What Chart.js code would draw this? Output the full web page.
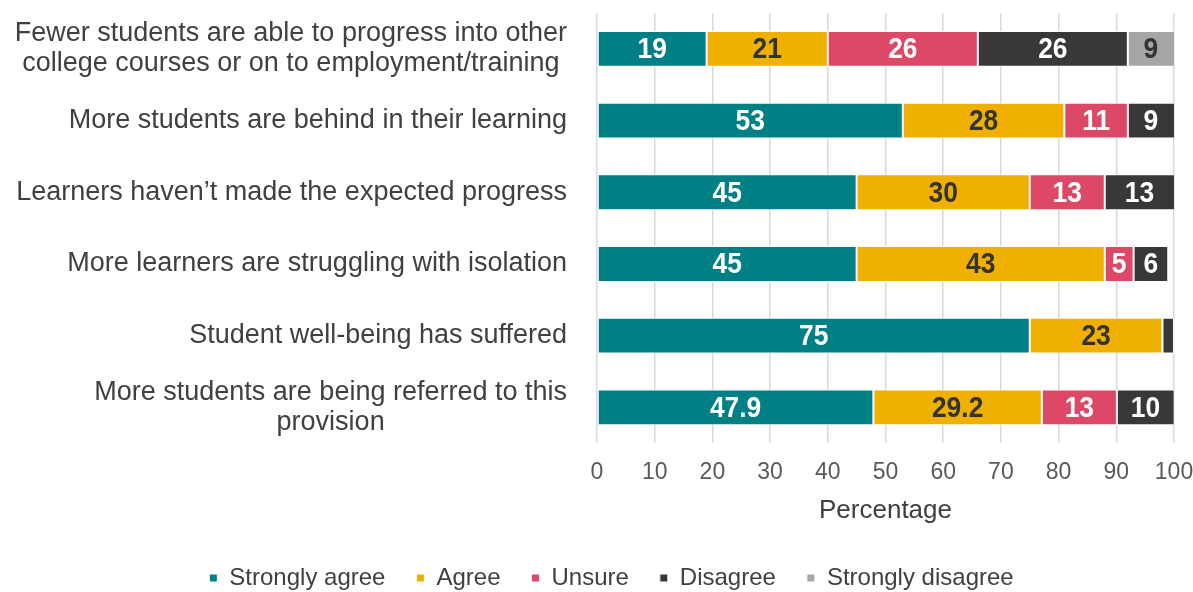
<!DOCTYPE html>
<html>
<head>
<meta charset="utf-8">
<script src="https://cdn.jsdelivr.net/npm/chart.js@4.4.0/dist/chart.umd.min.js"></script>
<style>
    html, body { margin: 0; padding: 0; background: #ffffff; }
    #wrap { width: 1193px; height: 592px; }
</style>
</head>
<body>
<div id="wrap"><canvas id="impactChart"></canvas></div>
<script>
// statements (multi-line ones as arrays)
var categorias = [
    ['Fewer students are able to progress into other', 'college courses or on to employment/training'],
    'More students are behind in their learning',
    'Learners haven\u2019t made the expected progress',
    'More learners are struggling with isolation',
    'Student well-being has suffered',
    ['More students are being referred to this', 'provision']
];

var muyDeAcuerdo = [19, 53, 45, 45, 75, 47.9];
var deAcuerdo = [21, 28, 30, 43, 23, 29.2];
var indeciso = [26, 11, 13, 5, null, 13];
var desacuerdo = [26, 9, 13, 6, 2, 10];
var muyDesacuerdo = [9, null, null, null, null, null];

var ticksX = [0, 10, 20, 30, 40, 50, 60, 70, 80, 90, 100];

var fuente = "'Liberation Sans', Arial, sans-serif";

// value labels drawn in the middle of each segment (bold, squeezed a bit)
var etiquetasValores = {
    id: 'etiquetasValores',
    afterDatasetsDraw: function (chart) {
        var ctx = chart.ctx;
        var area = chart.chartArea;
        chart.data.datasets.forEach(function (ds, d) {
            var meta = chart.getDatasetMeta(d);
            meta.data.forEach(function (bar, i) {
                var v = ds.data[i];
                if (v == null || v < 3) return;
                var p = bar.getProps(['x', 'y', 'base'], true);
                var derecha = Math.min(p.x, area.right);
                ctx.save();
                ctx.translate((p.base + derecha) / 2, p.y + 1);
                ctx.scale(0.88, 1);
                ctx.font = "bold 30px " + fuente;
                ctx.textAlign = 'center';
                ctx.textBaseline = 'middle';
                ctx.fillStyle = ds.colorTexto;
                ctx.fillText(String(v), 0, 0);
                ctx.restore();
            });
        });
    }
};

// category labels: right-aligned block, lines centred inside it
var etiquetasCategorias = {
    id: 'etiquetasCategorias',
    afterDraw: function (chart) {
        var ctx = chart.ctx;
        var y = chart.scales.y;
        var borde = 567;
        var alto = 30;
        ctx.save();
        ctx.font = "27px " + fuente;
        ctx.fillStyle = '#404040';
        ctx.textAlign = 'center';
        ctx.textBaseline = 'middle';
        categorias.forEach(function (c, i) {
            var lineas = Array.isArray(c) ? c : [c];
            var ancho = 0;
            lineas.forEach(function (l) { ancho = Math.max(ancho, ctx.measureText(l).width); });
            var cx = borde - ancho / 2;
            var cy = y.getPixelForValue(i) - (lineas.length - 1) * alto / 2;
            lineas.forEach(function (l, k) {
                ctx.fillText(l, cx, cy + k * alto);
            });
        });
        ctx.restore();
    }
};

function serie(label, data, color, colorTexto) {
    return {
        label: label,
        data: data,
        backgroundColor: color,
        borderColor: '#ffffff',
        borderWidth: 1,
        borderSkipped: false,
        colorTexto: colorTexto,
        categoryPercentage: 1,
        barPercentage: 0.5
    };
}

var grafico = new Chart(document.getElementById('impactChart').getContext('2d'), {
    type: 'bar',
    data: {
        labels: categorias,
        datasets: [
            serie('Strongly agree', muyDeAcuerdo, '#007f85', '#ffffff'),
            serie('Agree', deAcuerdo, '#f0b000', '#333333'),
            serie('Unsure', indeciso, '#dd4866', '#ffffff'),
            serie('Disagree', desacuerdo, '#383838', '#ffffff'),
            serie('Strongly disagree', muyDesacuerdo, '#a6a6a8', '#333333')
        ]
    },
    options: {
        indexAxis: 'y',
        responsive: true,
        maintainAspectRatio: false,
        animation: false,
        layout: { padding: { left: 30, top: 13, right: 0, bottom: -8 } },
        plugins: {
            tooltip: { enabled: false },
            legend: {
                position: 'bottom',
                labels: {
                    boxWidth: 8,
                    boxHeight: 8,
                    padding: 31,
                    color: '#404040',
                    font: { family: fuente, size: 24 }
                }
            }
        },
        scales: {
            x: {
                stacked: true,
                min: 0,
                max: 100,
                afterBuildTicks: function (s) {
                    s.ticks = ticksX.map(function (v) { return { value: v }; });
                },
                afterFit: function (s) { s.paddingRight = 19; },
                grid: { color: '#d9d9d9', lineWidth: 1.5, drawTicks: false },
                border: { display: false },
                ticks: {
                    padding: 16,
                    color: '#595959',
                    font: { family: fuente, size: 23 }
                },
                title: {
                    display: true,
                    text: 'Percentage',
                    color: '#404040',
                    padding: { top: -8, bottom: 9 },
                    font: { family: fuente, size: 26 }
                }
            },
            y: {
                stacked: true,
                grid: { display: false },
                border: { display: false },
                ticks: { display: false },
                afterFit: function (s) { s.width = 567; }
            }
        }
    },
    plugins: [etiquetasValores, etiquetasCategorias]
});
</script>
</body>
</html>
